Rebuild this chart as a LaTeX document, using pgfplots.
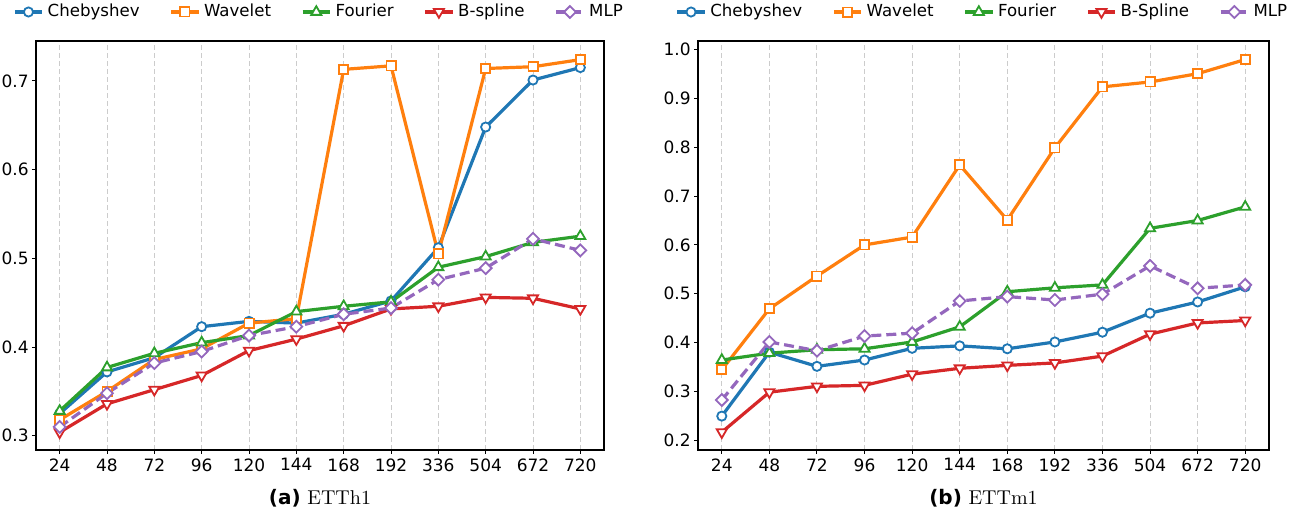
\documentclass[border=0pt]{standalone}
\usepackage{pgfplots}
\pgfplotsset{compat=1.18}
\usepackage{fontspec}
\newfontfamily\dejavu{DejaVu Sans}
\definecolor{c1}{HTML}{1F77B4}
\definecolor{c2}{HTML}{FF7F0E}
\definecolor{c3}{HTML}{2CA02C}
\definecolor{c4}{HTML}{D62728}
\definecolor{c5}{HTML}{9467BD}
\definecolor{gridc}{HTML}{CCCCCC}
\pgfplotsset{
  cheb/.style={color=c1, line width=1.6pt, mark=*, mark size=2.3pt, mark options={fill=white, line width=0.9pt, solid}},
  wave/.style={color=c2, line width=1.6pt, mark=square*, mark size=2.3pt, mark options={fill=white, line width=0.9pt, solid}},
  four/.style={color=c3, line width=1.6pt, mark=triangle*, mark size=2.9pt, mark options={fill=white, line width=0.9pt, solid}},
  bspl/.style={color=c4, line width=1.6pt, mark=triangle*, mark size=2.9pt, mark options={fill=white, line width=0.9pt, solid, rotate=180}},
  mlp/.style={color=c5, line width=1.6pt, dash pattern=on 5pt off 2.5pt, mark=square*, mark size=2.1pt, mark options={fill=white, line width=0.9pt, solid, rotate=45}},
  common/.style={
    scale only axis, height=204.5pt,
    xmin=-0.5, xmax=11.5,
    xtick={0,...,11},
    xticklabels={24,48,72,96,120,144,168,192,336,504,672,720},
    xmajorgrids=true,
    major grid style={gridc, line width=0.5pt, dash pattern=on 2.5pt off 1.5pt},
    tick align=outside, xtick pos=bottom, ytick pos=left,
    major tick length=2pt,
    tick style={black, line width=0.5pt},
    axis line style={line width=0.6pt},
    /pgf/number format/assume math mode=true,
    yticklabel style={inner xsep=1.5pt, /pgf/number format/fixed, /pgf/number format/precision=1, /pgf/number format/fixed zerofill},
    xticklabel style={inner ysep=2pt},
    every tick label/.append style={font=\dejavu\fontsize{8.5}{10}\selectfont},
    legend columns=5,
    legend style={draw=none, fill=none, at={(0.5,1)}, anchor=center, yshift=14.5pt,
      font=\dejavu\fontsize{8.3}{10}\selectfont,
      /tikz/every even column/.append style={column sep=13pt}},
    legend image code/.code={\draw[mark repeat=2,mark phase=2] plot coordinates {(0cm,0cm)(0.24cm,0cm)(0.48cm,0cm)};},
  }
}
\begin{document}
\begin{tikzpicture}
\path[use as bounding box] (-18pt,-32pt) rectangle (633pt,225pt);
\begin{axis}[common, width=284pt, ymin=0.284, ymax=0.745, ytick={0.3,0.4,0.5,0.6,0.7}]
\addplot[cheb] coordinates {(0,0.325)(1,0.372)(2,0.388)(3,0.423)(4,0.429)(5,0.427)(6,0.437)(7,0.452)(8,0.512)(9,0.648)(10,0.701)(11,0.715)};
\addlegendentry{Chebyshev}
\addplot[wave] coordinates {(0,0.318)(1,0.350)(2,0.386)(3,0.398)(4,0.427)(5,0.432)(6,0.713)(7,0.717)(8,0.505)(9,0.714)(10,0.716)(11,0.724)};
\addlegendentry{Wavelet}
\addplot[four] coordinates {(0,0.328)(1,0.377)(2,0.393)(3,0.405)(4,0.413)(5,0.440)(6,0.446)(7,0.451)(8,0.490)(9,0.502)(10,0.518)(11,0.525)};
\addlegendentry{Fourier}
\addplot[bspl] coordinates {(0,0.304)(1,0.336)(2,0.352)(3,0.368)(4,0.396)(5,0.409)(6,0.424)(7,0.443)(8,0.446)(9,0.456)(10,0.455)(11,0.443)};
\addlegendentry{B-spline}
\addplot[mlp] coordinates {(0,0.310)(1,0.348)(2,0.382)(3,0.395)(4,0.413)(5,0.423)(6,0.437)(7,0.444)(8,0.476)(9,0.489)(10,0.522)(11,0.509)};
\addlegendentry{MLP}
\end{axis}
\begin{axis}[common, at={(331pt,0pt)}, width=285.5pt, ymin=0.1795, ymax=1.018, ytick={0.2,0.3,0.4,0.5,0.6,0.7,0.8,0.9,1.0}]
\addplot[cheb] coordinates {(0,0.249)(1,0.380)(2,0.351)(3,0.364)(4,0.388)(5,0.393)(6,0.387)(7,0.401)(8,0.421)(9,0.460)(10,0.483)(11,0.514)};
\addlegendentry{Chebyshev}
\addplot[wave] coordinates {(0,0.344)(1,0.469)(2,0.536)(3,0.600)(4,0.616)(5,0.764)(6,0.651)(7,0.799)(8,0.924)(9,0.934)(10,0.951)(11,0.980)};
\addlegendentry{Wavelet}
\addplot[four] coordinates {(0,0.364)(1,0.378)(2,0.385)(3,0.387)(4,0.401)(5,0.432)(6,0.504)(7,0.512)(8,0.518)(9,0.634)(10,0.650)(11,0.678)};
\addlegendentry{Fourier}
\addplot[bspl] coordinates {(0,0.216)(1,0.298)(2,0.310)(3,0.312)(4,0.335)(5,0.347)(6,0.353)(7,0.358)(8,0.372)(9,0.417)(10,0.440)(11,0.445)};
\addlegendentry{B-Spline}
\addplot[mlp] coordinates {(0,0.282)(1,0.401)(2,0.383)(3,0.413)(4,0.419)(5,0.485)(6,0.494)(7,0.487)(8,0.499)(9,0.557)(10,0.511)(11,0.518)};
\addlegendentry{MLP}
\end{axis}
\node[font=\fontsize{10}{12}\selectfont] at (142pt,-24pt) {{\dejavu\bfseries (a)} ETTh1};
\node[font=\fontsize{10}{12}\selectfont] at (473.75pt,-24pt) {{\dejavu\bfseries (b)} ETTm1};
\end{tikzpicture}
\end{document}
